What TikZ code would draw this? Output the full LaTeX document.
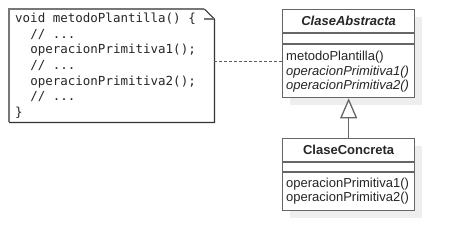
\documentclass[tikz,border=0pt]{standalone}
\usepackage{fontspec}
\setmainfont{Liberation Sans}
\setmonofont{DejaVu Sans Mono}
\usepackage{tikz}
\usetikzlibrary{positioning,calc,arrows.meta,shadows}

\definecolor{umlline}{HTML}{666666}
\definecolor{umlshadow}{HTML}{EEEEEE}
\definecolor{notelight}{HTML}{777777}
\definecolor{notedark}{HTML}{333333}

% one fixed-width blank in the code listing
\newcommand{\gap}{\hphantom{x}}

\begin{document}
\begin{tikzpicture}[x=1pt, y=-1pt, >=latex,
    every node/.style={font=\fontsize{13}{14.5}\selectfont, text=black!85},
    classbox/.style={draw=umlline, line width=1.3pt, fill=white, anchor=north west,
      minimum width=132pt, inner sep=0pt,
      drop shadow={shadow xshift=7pt, shadow yshift=-7pt, fill=umlshadow, opacity=1}},
    sep/.style={draw=umlline, line width=1.3pt},
    ops/.style={anchor=west, align=left, inner xsep=4pt, inner ysep=0pt},
    notebox/.style={anchor=north west, minimum width=205pt, minimum height=113pt,
      text width=193pt, inner xsep=6pt, inner ysep=0pt, align=left,
      font=\ttfamily\fontsize{12.5}{15.6}\selectfont}]
  \useasboundingbox (0,0) rectangle (453,250);

  % note with the template method
  \node[notebox] (note) at (9,9) {void\gap metodoPlantilla()\gap\{\\
    \gap\gap//\gap...\\
    \gap\gap operacionPrimitiva1();\\
    \gap\gap//\gap...\\
    \gap\gap operacionPrimitiva2();\\
    \gap\gap//\gap...\\
    \}};
  \draw[notelight, line width=1.2pt] (note.south west) -- (note.north west) -- ($(note.north east)+(-10,0)$);
  \draw[notedark, line width=1.2pt] ($(note.north east)+(-10,0)$) -- ($(note.north east)+(0,10)$)
    -- (note.south east) -- (note.south west);
  \draw[notelight, line width=1.2pt] ($(note.north east)+(-10,10)$) -- ($(note.north east)+(0,10)$);

  % abstract class
  \node[classbox, minimum height=88pt] (abstracta) at (282,9) {};
  \node (abstractaname) at ($(abstracta.north)+(0,12)$) {\textbf{\textit{ClaseAbstracta}}};
  \draw[sep] ($(abstracta.north west)+(0,24)$) -- ++(132,0);
  \draw[sep] ($(abstracta.north west)+(0,35)$) -- ++(132,0);
  \node[ops] (abstractaops) at ($(abstracta.north west)+(0,63)$)
    {metodoPlantilla()\\\textit{operacionPrimitiva1()}\\\textit{operacionPrimitiva2()}};

  % concrete class
  \node[classbox, minimum height=72pt] (concreta) at (282,138) {};
  \node (concretaname) at ($(concreta.north)+(0,12)$) {\textbf{ClaseConcreta}};
  \draw[sep] ($(concreta.north west)+(0,24)$) -- ++(132,0);
  \draw[sep] ($(concreta.north west)+(0,34)$) -- ++(132,0);
  \node[ops] (concretaops) at ($(concreta.north west)+(0,53)$)
    {operacionPrimitiva1()\\operacionPrimitiva2()};

  % note link and inheritance
  \coordinate (link) at (abstracta.west |- 0,61);
  \draw[notedark!80, line width=1pt, dash pattern=on 2.5pt off 2.5pt] (note.east |- link) -- (link);
  \draw[umlline, line width=1.3pt, -{Triangle[length=20pt, width=17pt, fill=white]}]
    (concreta.north) -- (abstracta.south);
\end{tikzpicture}
\end{document}
